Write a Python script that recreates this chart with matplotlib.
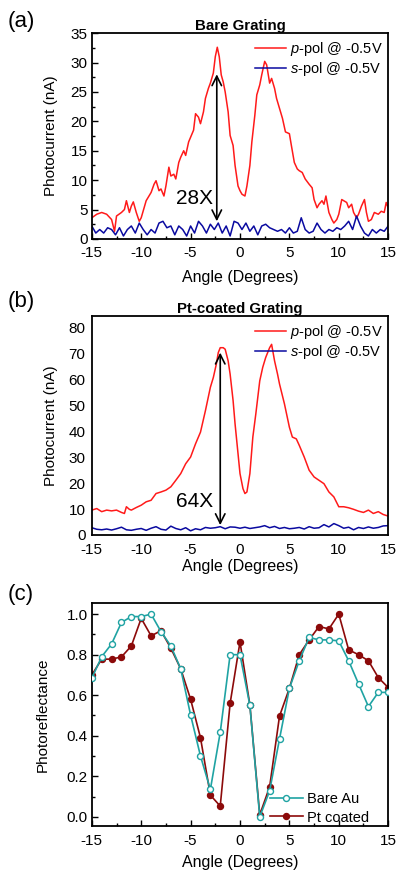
"""
Angle-resolved photocurrent of bare and Pt-coated gratings,
plus the photoreflectance of both samples.
"""

import numpy as np
import matplotlib.pyplot as plt
from matplotlib.ticker import MultipleLocator, FormatStrFormatter

plt.rcParams['font.family'] = ['Liberation Sans', 'DejaVu Sans']
plt.rcParams['mathtext.fontset'] = 'custom'
plt.rcParams['mathtext.it'] = 'Liberation Sans:italic'
plt.rcParams['mathtext.rm'] = 'Liberation Sans'
plt.rcParams['axes.unicode_minus'] = False

# (a) bare grating, p-pol photocurrent (nA)
bare_p_angle = [-15, -14.5, -14, -13.5, -13, -12.7, -12.5, -12, -11.7, -11.5, -11.2, -11,
                -10.8, -10.5, -10.2, -10, -9.5, -9, -8.7, -8.5, -8.2, -8, -7.7, -7.5,
                -7.2, -7, -6.7, -6.5, -6.2, -6, -5.7, -5.5, -5.2, -5, -4.7, -4.5, -4.2,
                -4, -3.7, -3.5, -3.2, -3, -2.7, -2.5, -2.3, -2.1, -1.9, -1.7, -1.5, -1.2,
                -1, -0.7, -0.5, -0.2, 0, 0.2, 0.5, 0.7, 1, 1.2, 1.5, 1.7, 2, 2.2, 2.5,
                2.7, 3, 3.2, 3.5, 3.7, 4, 4.3, 4.6, 5, 5.2, 5.5, 5.8, 6, 6.3, 6.6, 7,
                7.3, 7.5, 7.8, 8, 8.3, 8.5, 8.7, 9, 9.3, 9.5, 9.8, 10, 10.3, 10.5, 10.8,
                11, 11.3, 11.5, 11.8, 12, 12.3, 12.6, 12.8, 13, 13.3, 13.6, 14, 14.3,
                14.6, 14.8, 15]
bare_p_current = [3.6, 4.2, 4.5, 4.2, 3.3, 1.3, 3.9, 4.5, 5.0, 6.5, 4.5, 5.6,
                  6.3, 4.5, 3.0, 3.6, 6.5, 7.9, 9.3, 9.9, 8.2, 8.5, 7.3, 9.0,
                  12.2, 10.7, 11.0, 10.2, 13.0, 13.9, 15.0, 14.2, 16.5, 17.3, 18.5, 21.3, 20.7,
                  19.6, 21.6, 23.9, 25.6, 26.5, 28.2, 31.0, 32.6, 31.0, 27.9, 26.7, 25.0, 21.6,
                  17.6, 15.9, 12.5, 9.0, 8.2, 7.6, 7.3, 9.0, 12.5, 16.5, 21.0, 24.5, 26.2, 27.9, 30.2,
                  29.6, 26.5, 27.3, 25.6, 23.9, 22.2, 20.5, 18.2, 17.9, 15.9, 13.0, 11.9, 11.6, 11.3, 10.2, 9.3,
                  8.7, 6.7, 5.3, 5.9, 6.5, 5.9, 7.3, 4.5, 3.3, 2.7, 3.3, 4.2, 6.7, 6.5, 6.2,
                  5.3, 5.9, 4.5, 3.6, 4.2, 5.6, 6.7, 4.5, 3.0, 3.3, 4.5, 4.2, 4.7,
                  4.5, 6.2, 5.3]

# (a) bare grating, s-pol photocurrent (nA), sampled every 0.4 deg
bare_s_angle = np.linspace(-15, 15, 76)
bare_s_current = [2.2, 1.0, 1.6, 1.0, 1.9, 1.6, 0.7, 1.9, 0.5, 1.6, 2.2, 1.0, 2.7,
                  1.6, 0.7, 1.6, 1.0, 2.7, 3.0, 1.9, 2.2, 0.7, 2.2, 1.6, 0.5, 2.2,
                  1.0, 3.0, 2.2, 1.0, 2.5, 1.6, 2.7, 1.0, 2.2, 0.5, 3.0, 2.7, 1.6,
                  2.7, 1.3, 2.2, 0.7, 2.2, 2.5, 1.9, 1.6, 1.3, 1.6, 1.0, 1.9, 1.0,
                  1.3, 3.6, 1.6, 1.0, 1.3, 2.7, 1.6, 1.0, 1.6, 1.3, 1.9, 1.6, 2.2,
                  3.0, 1.6, 3.9, 2.2, 1.0, 0.5, 1.6, 1.0, 1.6, 1.3, 2.2]

# (b) Pt-coated grating, p-pol photocurrent (nA)
pt_p_angle = [-15, -14.5, -14, -13.5, -13, -12.5, -12, -11.7, -11.5, -11.2, -11, -10.5,
              -10, -9.5, -9, -8.5, -8, -7.5, -7, -6.5, -6, -5.5, -5, -4.5, -4, -3.5,
              -3, -2.7, -2.4, -2.2, -2, -1.7, -1.5, -1.2, -1, -0.7, -0.5, -0.2, 0, 0.3,
              0.5, 0.7, 1, 1.3, 1.6, 2, 2.3, 2.6, 3, 3.2, 3.5, 3.8, 4, 4.5, 5, 5.3,
              5.7, 6, 6.5, 7, 7.5, 8, 8.5, 9, 9.5, 10, 10.5, 11, 11.5, 12, 12.5, 13,
              13.5, 14, 14.5, 15]
pt_p_current = [9.6, 10.2, 9.0, 9.6, 9.3, 9.6, 8.7, 8.3, 10.9, 9.9, 9.6, 10.6,
                11.5, 12.8, 13.4, 16.0, 16.6, 17.3, 18.6, 21.1, 23.7, 27.5, 30.1, 35.2, 39.7, 48.0,
                57.0, 60.8, 65.9, 70.4, 72.3, 72.3, 71.7, 67.2, 62.1, 51.9, 42.9, 31.4, 23.7, 17.9,
                16.0, 16.6, 23.7, 37.8, 46.7, 59.5, 64.7, 68.5, 72.3, 73.6, 67.2, 62.1, 58.3, 50.6, 41.6, 37.8,
                37.1, 34.6, 30.1, 25.0, 22.4, 21.1, 19.8, 16.6, 14.7, 10.9, 10.9, 10.5, 9.9, 9.2, 8.7, 9.6,
                8.3, 9.0, 7.9, 7.3]

# (b) Pt-coated grating, s-pol photocurrent (nA), sampled every 0.5 deg
pt_s_angle = np.linspace(-15, 15, 61)
pt_s_current = [2.8, 2.2, 2.0, 2.3, 1.9, 2.4, 3.0, 2.0, 1.8, 2.2, 2.5, 1.8, 2.6,
                3.2, 2.2, 1.9, 3.4, 2.5, 2.0, 2.8, 1.6, 2.4, 2.0, 2.9, 2.6, 2.8,
                3.2, 2.4, 3.1, 3.0, 2.6, 3.0, 2.5, 2.8, 3.1, 3.6, 2.8, 3.3, 2.5,
                2.9, 2.4, 2.6, 2.9, 2.3, 3.2, 2.6, 2.8, 4.0, 3.1, 4.4, 3.6, 2.6,
                3.0, 2.0, 2.9, 2.5, 3.1, 2.6, 2.9, 3.5, 3.6]

# (c) normalised photoreflectance, one point per degree
refl_angle = np.arange(-15, 16)
bare_au = [0.684, 0.79, 0.853, 0.959, 0.988, 0.988, 1.0, 0.914, 0.843, 0.73, 0.502,
           0.30, 0.135, 0.417, 0.80, 0.80, 0.55, 0.0, 0.128, 0.384, 0.634, 0.77,
           0.885, 0.873, 0.873, 0.868, 0.77, 0.656, 0.544, 0.614, 0.614]
pt_coated = [0.70, 0.778, 0.778, 0.789, 0.843, 0.979, 0.893, 0.918, 0.832, 0.73, 0.58,
             0.39, 0.107, 0.053, 0.56, 0.863, 0.552, 0.01, 0.148, 0.497, 0.634, 0.80,
             0.873, 0.939, 0.927, 1.0, 0.824, 0.80, 0.77, 0.687, 0.638]

RED = '#ff1a1a'
BLUE = '#0a0aa0'
TEAL = '#1fa3a3'
DARKRED = '#8c0a0a'
FS = 11

fig = plt.figure(figsize=(4.01, 8.72), dpi=100)
ax_a = fig.add_axes([0.229, 0.726, 0.739, 0.236])
ax_b = fig.add_axes([0.229, 0.3865, 0.739, 0.251])
ax_c = fig.add_axes([0.229, 0.0528, 0.739, 0.2557])


def style_axes(ax, xpad, labelpad, ypad=3, ticks=True):
    for s in ax.spines.values():
        s.set_linewidth(1.3)
    ax.set_xlim(-15, 15)
    ax.xaxis.set_major_locator(MultipleLocator(5))
    if ticks:
        ax.xaxis.set_minor_locator(MultipleLocator(2.5))
        ax.tick_params(which='both', direction='in', width=1.0, labelsize=FS)
        ax.tick_params(which='major', length=4)
        ax.tick_params(which='minor', length=2.5)
    else:
        ax.tick_params(which='both', length=0, labelsize=FS)
    ax.tick_params(axis='x', pad=xpad)
    ax.tick_params(axis='y', pad=ypad)
    ax.set_xlabel('Angle (Degrees)', fontsize=FS + 0.5, labelpad=labelpad)


legend_labels = [r'$\it{p}$-pol @ -0.5V', r'$\it{s}$-pol @ -0.5V']
legend_kw = dict(loc='upper right', frameon=False, fontsize=10.5, handlelength=2.1,
                 handletextpad=0.25, labelspacing=0.12, borderaxespad=0.1,
                 bbox_to_anchor=(1.005, 1.0))

# (a) bare grating
ax_a.plot(bare_p_angle, bare_p_current, color=RED, lw=1.1, label=legend_labels[0])
ax_a.plot(bare_s_angle, bare_s_current, color=BLUE, lw=1.1, label=legend_labels[1])
ax_a.set_ylim(0, 35)
ax_a.yaxis.set_major_locator(MultipleLocator(5))
ax_a.yaxis.set_minor_locator(MultipleLocator(2.5))
style_axes(ax_a, xpad=5, labelpad=7)
ax_a.set_ylabel('Photocurrent (nA)', fontsize=FS, labelpad=9)
ax_a.set_title('Bare Grating', fontsize=10.8, fontweight='bold', pad=2)
ax_a.legend(**legend_kw)
ax_a.annotate('', xy=(-2.35, 28), xytext=(-2.35, 3),
              arrowprops=dict(arrowstyle='<->', lw=1.2, color='black',
                              mutation_scale=17, shrinkA=0, shrinkB=0))
ax_a.text(-2.75, 6.8, '28X', ha='right', va='center', fontsize=15)

# (b) Pt-coated grating
ax_b.plot(pt_p_angle, pt_p_current, color=RED, lw=1.1, label=legend_labels[0])
ax_b.plot(pt_s_angle, pt_s_current, color=BLUE, lw=1.1, label=legend_labels[1])
ax_b.set_ylim(0, 84.5)
ax_b.yaxis.set_major_locator(MultipleLocator(10))
style_axes(ax_b, xpad=5.5, labelpad=2, ypad=4.5, ticks=False)
ax_b.set_ylabel('Photocurrent (nA)', fontsize=FS, labelpad=7.5)
ax_b.set_title('Pt-coated Grating', fontsize=10.8, fontweight='bold', pad=2)
ax_b.legend(**legend_kw)
ax_b.annotate('', xy=(-2.0, 70.4), xytext=(-2.0, 3.8),
              arrowprops=dict(arrowstyle='<->', lw=1.2, color='black',
                              mutation_scale=17, shrinkA=0, shrinkB=0))
ax_b.text(-2.7, 12.8, '64X', ha='right', va='center', fontsize=15)

# (c) photoreflectance
ax_c.plot(refl_angle, pt_coated, '-o', color=DARKRED, lw=1.2, ms=4.3,
          mfc=DARKRED, mec=DARKRED, label='Pt coated', zorder=2)
ax_c.plot(refl_angle, bare_au, '-o', color=TEAL, lw=1.2, ms=4.3,
          mfc='white', mec=TEAL, mew=1.0, label='Bare Au', zorder=3)
ax_c.set_ylim(-0.045, 1.055)
ax_c.yaxis.set_major_locator(MultipleLocator(0.2))
ax_c.yaxis.set_minor_locator(MultipleLocator(0.1))
ax_c.yaxis.set_major_formatter(FormatStrFormatter('%.1f'))
style_axes(ax_c, xpad=6, labelpad=5)
ax_c.set_ylabel('Photoreflectance', fontsize=FS, labelpad=12)
handles, labels = ax_c.get_legend_handles_labels()
ax_c.legend(handles[::-1], labels[::-1], loc='lower right', frameon=False,
            fontsize=10.5, handlelength=2.3, handletextpad=0.25, numpoints=1,
            labelspacing=0.3, borderaxespad=0.0, bbox_to_anchor=(0.955, -0.02))

# panel letters
fig.text(0.018, 0.975, '(a)', fontsize=16, va='center')
fig.text(0.018, 0.654, '(b)', fontsize=16, va='center')
fig.text(0.018, 0.318, '(c)', fontsize=16, va='center')

fig.savefig('out.png', dpi=100, facecolor='white')
plt.close(fig)
